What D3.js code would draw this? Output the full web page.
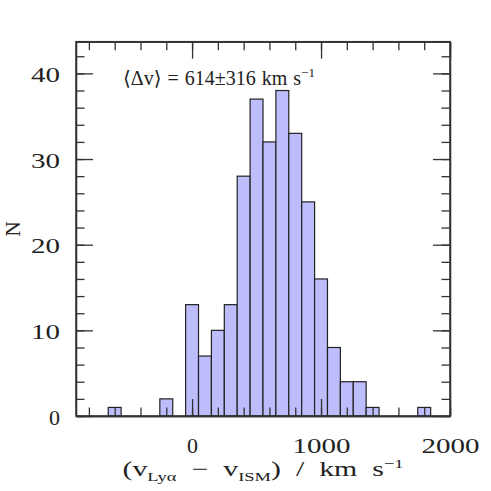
<!DOCTYPE html>
<html>
<head>
<meta charset="utf-8">
<script src="https://cdn.jsdelivr.net/npm/d3@7"></script>
<style>
  body { margin: 0; background: #fff; }
  text { font-family: "Liberation Serif", "DejaVu Serif", serif; fill: #222; }
  .axis path, .axis line { stroke: #333; stroke-width: 1.3; }
</style>
</head>
<body>
<svg width="491" height="491"></svg>
<script>
// histogram of velocity offsets, bins 100 km/s wide centred on these values
var binCenters = [-600, -200, 0, 100, 200, 300, 400, 500, 600, 700, 800, 900, 1000, 1100, 1200, 1300, 1400, 1800];
var counts     = [1, 2, 13, 7, 10, 13, 28, 37, 32, 38, 33, 25, 16, 8, 4, 4, 1, 1];
var binWidth = 100;

var xMajor = [0, 1000, 2000];
var xMinor = d3.range(-800, 2001, 200);
var yMajor = [0, 10, 20, 30, 40];
var yMinor = d3.range(0, 43, 2);

var svg = d3.select("svg");

var plotLeft = 76, plotRight = 450, plotTop = 41.7, plotBottom = 416;

var xScale = d3.scaleLinear().domain([-900, 2000]).range([plotLeft, plotRight]);
var yScale = d3.scaleLinear().domain([0, 43.7]).range([plotBottom, plotTop]);

// label width per number of digits (the original font is wide)
function labelWidth(s) { return s.length === 1 ? 11 : s.length * 14.5; }

// bars
svg.selectAll("rect.bar")
	.data(binCenters)
	.enter()
	.append("rect")
	.attr("class", "bar")
	.attr("x", function(d) { return xScale(d - binWidth / 2); })
	.attr("width", function(d) { return xScale(d + binWidth / 2) - xScale(d - binWidth / 2); })
	.attr("y", function(d, i) { return yScale(counts[i]); })
	.attr("height", function(d, i) { return yScale(0) - yScale(counts[i]); })
	.attr("fill", "#bdbdfc")
	.attr("stroke", "#222")
	.attr("stroke-width", 1.2);

// minor ticks on all four sides
function minorAxis(axis, transform) {
	svg.append("g")
		.attr("class", "axis")
		.attr("transform", transform)
		.call(axis.tickSizeInner(-8.5).tickSizeOuter(0).tickFormat(""));
}
minorAxis(d3.axisBottom(xScale).tickValues(xMinor), "translate(0," + plotBottom + ")");
minorAxis(d3.axisTop(xScale).tickValues(xMinor), "translate(0," + plotTop + ")");
minorAxis(d3.axisLeft(yScale).tickValues(yMinor), "translate(" + plotLeft + ",0)");
minorAxis(d3.axisRight(yScale).tickValues(yMinor), "translate(" + plotRight + ",0)");

// major ticks
var xAxis = svg.append("g")
	.attr("class", "axis")
	.attr("transform", "translate(0," + plotBottom + ")")
	.call(d3.axisBottom(xScale).tickValues(xMajor).tickSizeInner(-17).tickSizeOuter(0).tickFormat(d3.format("d")));
xAxis.selectAll("text")
	.attr("y", 37)
	.attr("dy", 0)
	.attr("font-size", 21)
	.attr("fill", "#222")
	.attr("textLength", function(d) { return labelWidth(String(d)); })
	.attr("lengthAdjust", "spacingAndGlyphs");

svg.append("g")
	.attr("class", "axis")
	.attr("transform", "translate(0," + plotTop + ")")
	.call(d3.axisTop(xScale).tickValues(xMajor).tickSizeInner(-17).tickSizeOuter(0).tickFormat(""));

var yAxis = svg.append("g")
	.attr("class", "axis")
	.attr("transform", "translate(" + plotLeft + ",0)")
	.call(d3.axisLeft(yScale).tickValues(yMajor).tickSizeInner(-17).tickSizeOuter(0).tickFormat(d3.format("d")));
yAxis.selectAll("text")
	.attr("x", -16)
	.attr("dy", 8)
	.attr("font-size", 21)
	.attr("fill", "#222")
	.attr("textLength", function(d) { return labelWidth(String(d)); })
	.attr("lengthAdjust", "spacingAndGlyphs");

svg.append("g")
	.attr("class", "axis")
	.attr("transform", "translate(" + plotRight + ",0)")
	.call(d3.axisRight(yScale).tickValues(yMajor).tickSizeInner(-17).tickSizeOuter(0).tickFormat(""));

// frame
svg.append("rect")
	.attr("x", plotLeft)
	.attr("y", plotTop)
	.attr("width", plotRight - plotLeft)
	.attr("height", plotBottom - plotTop)
	.attr("fill", "none")
	.attr("stroke", "#333")
	.attr("stroke-width", 1.5);

// annotation
var note = svg.append("text")
	.attr("x", 219)
	.attr("y", 85)
	.attr("text-anchor", "middle")
	.attr("font-size", 20)
	.attr("word-spacing", 1);
note.append("tspan").text("\u27E8\u0394v\u27E9 = 614\u00B1316 km s");
note.append("tspan").attr("font-size", 13).attr("dy", -8).text("\u22121");

// axis labels
var xl = svg.append("text")
	.attr("x", 263)
	.attr("y", 476)
	.attr("text-anchor", "middle")
	.attr("font-size", 21)
	.attr("textLength", 281)
	.attr("lengthAdjust", "spacingAndGlyphs")
	.style("white-space", "pre");
xl.append("tspan").text("(v");
xl.append("tspan").attr("font-size", 13).attr("dy", 5).text("Ly\u03B1");
xl.append("tspan").attr("dy", -5).text("  \u2212  v");
xl.append("tspan").attr("font-size", 13).attr("dy", 5).text("ISM");
xl.append("tspan").attr("dy", -5).text(")  /  km  s");
xl.append("tspan").attr("font-size", 13).attr("dy", -8).text("\u22121");

svg.append("text")
	.attr("transform", "translate(20," + ((plotTop + plotBottom) / 2) + ") rotate(-90)")
	.attr("text-anchor", "middle")
	.attr("font-size", 21)
	.text("N");
</script>
</body>
</html>
